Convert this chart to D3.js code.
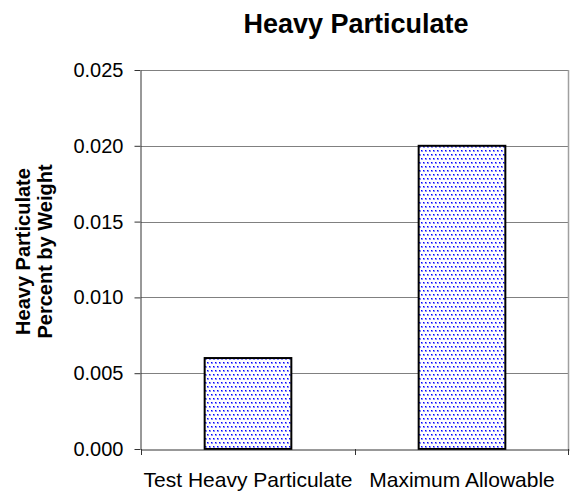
<!DOCTYPE html>
<html>
<head>
<meta charset="utf-8">
<script src="https://cdn.jsdelivr.net/npm/d3@7"></script>
<style>
  html, body { margin: 0; padding: 0; background: #fff; }
  svg { display: block; font-family: "Liberation Sans", Arial, sans-serif; }
</style>
</head>
<body>
<svg id="chart" width="574" height="491"></svg>
<script>
// Chart data
const categories = ["Test Heavy Particulate", "Maximum Allowable"];
const values = [0.006, 0.020];
const yTicks = [0, 0.005, 0.010, 0.015, 0.020, 0.025];
const yLabelLines = ["Heavy Particulate", "Percent by Weight"];
const title = "Heavy Particulate";

const W = 574, H = 491;
const margin = { top: 70, right: 5, bottom: 42, left: 141 };
const innerW = W - margin.left - margin.right;
const innerH = H - margin.top - margin.bottom;

const svg = d3.select("#chart");

// Dotted fill used for the bars
const defs = svg.append("defs");
const pat = defs.append("pattern")
  .attr("id", "dots")
  .attr("patternUnits", "userSpaceOnUse")
  .attr("width", 4).attr("height", 8);
pat.append("rect").attr("width", 4).attr("height", 8).attr("fill", "#fff");
[[0, 0], [2, 4]].forEach(([px, py]) => {
  pat.append("rect").attr("x", px).attr("y", py).attr("width", 2).attr("height", 2).attr("fill", "#8c8cff");
  pat.append("rect").attr("x", px).attr("y", py).attr("width", 1).attr("height", 1).attr("fill", "#0000ff");
});

const g = svg.append("g").attr("transform", `translate(${margin.left},${margin.top})`);

const x = d3.scaleBand().domain(categories).range([0, innerW]).padding(0);
const y = d3.scaleLinear().domain([0, 0.025]).range([innerH, 0]);
const barFrac = 0.405;

// Horizontal gridlines
g.append("g").selectAll("line")
  .data(yTicks.filter(d => d > 0))
  .join("line")
  .attr("x1", 0).attr("x2", innerW)
  .attr("y1", d => Math.round(y(d)) + 0.5).attr("y2", d => Math.round(y(d)) + 0.5)
  .attr("stroke", "#808080").attr("stroke-width", 1);

// Right edge of the plot area
g.append("line")
  .attr("x1", innerW - 0.5).attr("x2", innerW - 0.5)
  .attr("y1", Math.round(y(0.025))).attr("y2", innerH)
  .attr("stroke", "#a0a0a0").attr("stroke-width", 1.5);

// Bars
g.append("g").selectAll("rect")
  .data(values)
  .join("rect")
  .attr("x", (d, i) => x(categories[i]) + x.bandwidth() * (1 - barFrac) / 2)
  .attr("width", x.bandwidth() * barFrac)
  .attr("y", d => y(d))
  .attr("height", d => innerH - y(d))
  .attr("fill", "url(#dots)")
  .attr("stroke", "#000").attr("stroke-width", 2);

// Y axis
const yAxis = g.append("g")
  .attr("transform", "translate(-0.5,0)")
  .call(d3.axisLeft(y).tickValues(yTicks).tickFormat(d3.format(".3f")).tickSize(6).tickPadding(11).tickSizeOuter(0));
yAxis.select(".domain").attr("stroke", "#333");
yAxis.selectAll(".tick line").attr("stroke", "#333");
yAxis.selectAll(".tick text")
  .attr("font-family", "Liberation Sans, Arial, sans-serif")
  .attr("font-size", 20).attr("fill", "#000");

// X axis
const xAxis = g.append("g")
  .attr("transform", `translate(0,${innerH + 0.5})`)
  .call(d3.axisBottom(x).tickSize(0).tickSizeOuter(0));
xAxis.select(".domain").attr("stroke", "#333");
xAxis.selectAll(".tick text")
  .attr("font-family", "Liberation Sans, Arial, sans-serif")
  .attr("font-size", 21).attr("fill", "#000").attr("y", 0).attr("dy", 37);
// Category separators below the axis
g.append("g").selectAll("line")
  .data(categories.concat([null]))
  .join("line")
  .attr("x1", (d, i) => i === categories.length ? innerW - 0.5 : x(d) + 0.5)
  .attr("x2", (d, i) => i === categories.length ? innerW - 0.5 : x(d) + 0.5)
  .attr("y1", innerH).attr("y2", innerH + 6)
  .attr("stroke", "#333");

// Title
svg.append("text")
  .attr("x", 356).attr("y", 33)
  .attr("text-anchor", "middle")
  .attr("font-size", 27).attr("font-weight", "bold")
  .text(title);

// Y axis title
const yl = svg.append("text")
  .attr("transform", `translate(30,${margin.top + innerH / 2 - 8}) rotate(-90)`)
  .attr("text-anchor", "middle")
  .attr("font-size", 20).attr("font-weight", "bold");
yl.selectAll("tspan").data(yLabelLines).join("tspan")
  .attr("x", 0).attr("dy", (d, i) => i === 0 ? 0 : 22)
  .text(d => d);
</script>
</body>
</html>
